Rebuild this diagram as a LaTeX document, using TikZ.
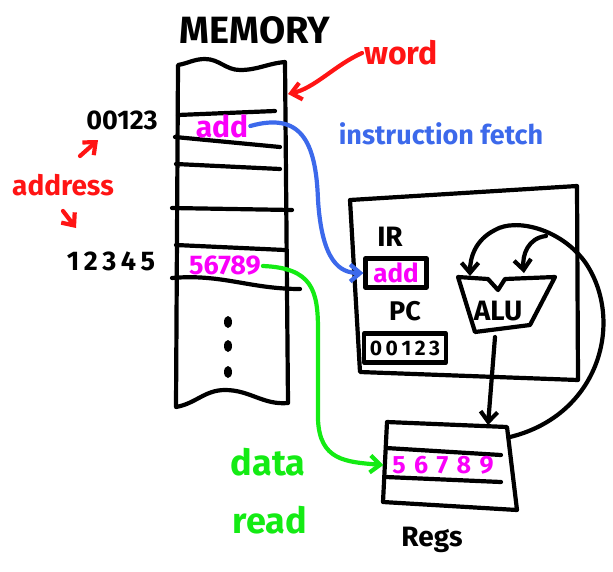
\documentclass[tikz,border=0pt]{standalone}
\usepackage{fontspec}
\setmainfont{Fira Sans}
\usetikzlibrary{arrows.meta}

\definecolor{inkred}{RGB}{255,20,20}
\definecolor{inkblue}{RGB}{60,105,235}
\definecolor{inkgreen}{RGB}{20,235,20}
\definecolor{inkmag}{RGB}{250,0,250}

\begin{document}
\begin{tikzpicture}[x=1pt,y=-1pt,line width=4.2pt,line cap=round,line join=round,
                    tip/.style={-{Straight Barb[length=10pt,width=17pt]}},
                    lbl/.style={inner sep=0pt,font=\fontsize{#1}{#1}\selectfont\bfseries},
                    reg/.style={draw,inner sep=0pt,minimum height=29pt}]

       \useasboundingbox (0,0) rectangle (613,571);

       \node[lbl=38] (mem) at (255,30) {MEMORY};

       % memory column
       \draw (178,65) to[out=10,in=180] (205,59) to[out=0,in=180] (240,70) to[out=0,in=185] (285,62)
             -- (288,403) to[out=185,in=0] (225,390) to[out=180,in=10] (176,407) -- cycle;
       \draw (178,115) -- (275,111);
       \draw (175,137) -- (280,147);
       \draw (176,164) -- (280,169);
       \draw (172,208) -- (292,210);
       \draw (176,245) -- (285,250);
       \draw (172,278) to[out=5,in=180] (300,289);
       \node[lbl=30,text=inkmag] (instcell) at (222,126) {add};
       \node[lbl=27,text=inkmag] (datacell) at (225,266) {56789};
       \foreach \y in {322,346,372}
         \fill (228,\y) ellipse (4pt and 6pt);

       \node[lbl=27] (a1) at (122,120) {00123};
       \node[lbl=27] (a2) at (111,261) {1\,2\,3\,4\,5};
       \node[lbl=28,text=inkred] (addr) at (63,185) {address};
       \node[lbl=32,text=inkred] (word) at (401,53) {word};
       \node[lbl=27,text=inkblue] (fetch) at (441,134) {instruction fetch};

       % cpu
       \draw (350,200) -- (577,186) -- (578,380) -- (360,372) -- cycle;
       \node[lbl=28] (irl) at (390,237) {IR};
       \node[reg,lbl=26,minimum width=61pt,text=inkmag] (ir) at (396,273) {add};
       \node[lbl=27] (pcl) at (405,311) {PC};
       \node[reg,lbl=21,minimum width=82pt] (pc) at (405,348) {0\,0\,1\,2\,3};
       \draw (458,277) -- (488,279) -- (498,290) -- (505,279) -- (555,277)
             -- (530,325) -- (475,332) -- cycle;
       \node[lbl=28] (alu) at (498,311) {ALU};

       % registers
       \draw (387,422) -- (507,427) -- (517,510) -- (383,502) -- cycle;
       \draw (386,448) -- (501,455);
       \draw (386,477) -- (501,482);
       \node[lbl=25,text=inkmag,minimum width=115pt] (regval) at (443,465) {5\,\,6\,\,7\,\,8\,\,9};
       \node[lbl=28] (regs) at (432,540) {Regs};
       \coordinate (regtop) at (488,425);
       \coordinate (regside) at (510,437);

       \node[lbl=36,text=inkgreen] (data) at (268,462) {data};
       \node[lbl=36,text=inkgreen] (read) at (270,520) {read};

       \draw[tip,inkred] (addr.north) ++(17,-16) -- (98,140);
       \draw[tip,inkred] (addr.south) ++(0,13) -- (76,228);
       \draw[tip,inkred] (word.west) .. controls (335,65) and (315,88) .. (288,94);
       \draw[tip,inkblue] (instcell.east) .. controls (300,112) and (316,140) .. (318,200)
             .. controls (322,262) and (340,273) .. (ir.west);
       \draw[tip,inkgreen] (datacell.east) .. controls (312,268) and (318,290) .. (318,330)
             -- (318,420) .. controls (320,460) and (345,462) .. (regval.west);
       \draw[tip] (alu.south) ++(-3,14) -- (regtop);
       \draw[tip] (regside) .. controls (600,415) and (625,320) .. (585,262)
             .. controls (560,228) and (515,218) .. (495,230) .. controls (475,240) and (470,258) .. (470,276);
       \draw[tip] (546,236) .. controls (528,238) and (522,255) .. (524,273);
\end{tikzpicture}
\end{document}
